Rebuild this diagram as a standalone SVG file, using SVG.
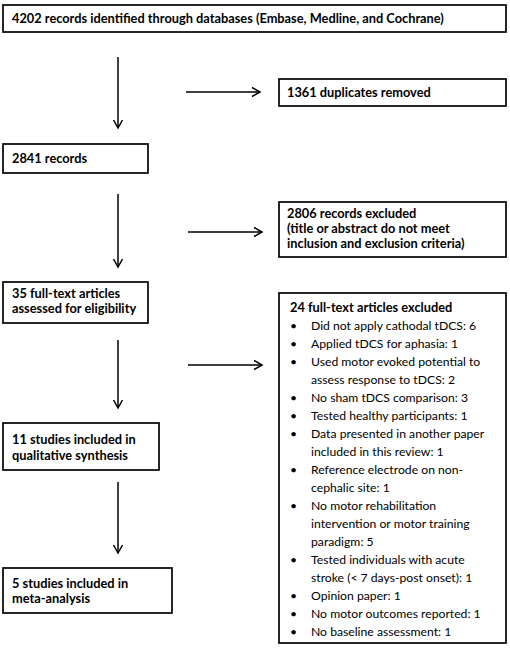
<svg xmlns="http://www.w3.org/2000/svg" width="510" height="648" viewBox="0 0 510 648">
<style>
.box{fill:#fff;stroke:#000;stroke-width:1.7}
.b{font-family:Lato,"Liberation Sans",sans-serif;font-weight:bold;font-size:12.8px;fill:#000}
.r{font-family:Lato,"Liberation Sans",sans-serif;font-size:12.2px;fill:#000}
.ln{stroke:#000;stroke-width:1.5;fill:none}
.hd{stroke:#000;stroke-width:1.5;fill:none;stroke-linejoin:miter}
</style>
<rect width="510" height="648" fill="#fff"/>
<g id="identified"><rect class="box" x="3" y="5" width="503" height="27"/><text class="b" x="12" y="23">4202 records identified through databases (Embase, Medline, and Cochrane)</text></g>
<g id="duplicates"><rect class="box" x="279" y="79" width="227" height="27"/><text class="b" x="287" y="97">1361 duplicates removed</text></g>
<g id="records"><rect class="box" x="3" y="144" width="145" height="29"/><text class="b" x="12" y="163">2841 records</text></g>
<g id="excluded1"><rect class="box" x="279" y="202" width="227" height="55"/><text class="b" x="287" y="217.5">2806 records excluded</text><text class="b" x="287" y="232.5">(title or abstract do not meet</text><text class="b" x="287" y="247.5">inclusion and exclusion criteria)</text></g>
<g id="fulltext"><rect class="box" x="3" y="282" width="145" height="41"/><text class="b" x="12" y="297.5">35 full-text articles</text><text class="b" x="12" y="313">assessed for eligibility</text></g>
<g id="qualitative"><rect class="box" x="3" y="423" width="156" height="47"/><text class="b" x="12" y="444">11 studies included in</text><text class="b" x="12" y="460">qualitative synthesis</text></g>
<g id="meta"><rect class="box" x="3" y="568" width="169" height="45"/><text class="b" x="12" y="587.5">5 studies included in</text><text class="b" x="12" y="603">meta-analysis</text></g>
<g id="excluded2"><rect class="box" x="279" y="293" width="227" height="350"/>
<text class="b" x="290" y="311.5">24 full-text articles excluded</text>
<g class="r">
<text x="290" y="329.5">•</text><text x="311" y="329.5">Did not apply cathodal tDCS: 6</text>
<text x="290" y="347.5">•</text><text x="311" y="347.5">Applied tDCS for aphasia: 1</text>
<text x="290" y="365.5">•</text><text x="311" y="365.5">Used motor evoked potential to</text>
<text x="311" y="383.5">assess response to tDCS: 2</text>
<text x="290" y="401.5">•</text><text x="311" y="401.5">No sham tDCS comparison: 3</text>
<text x="290" y="419.5">•</text><text x="311" y="419.5">Tested healthy participants: 1</text>
<text x="290" y="437.5">•</text><text x="311" y="437.5">Data presented in another paper</text>
<text x="311" y="455.5">included in this review: 1</text>
<text x="290" y="473.5">•</text><text x="311" y="473.5">Reference electrode on non-</text>
<text x="311" y="491.5">cephalic site: 1</text>
<text x="290" y="509.5">•</text><text x="311" y="509.5">No motor rehabilitation</text>
<text x="311" y="527.5">intervention or motor training</text>
<text x="311" y="545.5">paradigm: 5</text>
<text x="290" y="563.5">•</text><text x="311" y="563.5">Tested individuals with acute</text>
<text x="311" y="581.5">stroke (&lt; 7 days-post onset): 1</text>
<text x="290" y="599.5">•</text><text x="311" y="599.5">Opinion paper: 1</text>
<text x="290" y="617.5">•</text><text x="311" y="617.5">No motor outcomes reported: 1</text>
<text x="290" y="635.5">•</text><text x="311" y="635.5">No baseline assessment: 1</text>
</g></g>
<g id="connectors">
<line class="ln" x1="118" y1="57" x2="118" y2="128"/><polyline class="hd" points="113.5,120 118,128 122.5,120"/>
<line class="ln" x1="186" y1="92" x2="260" y2="92"/><polyline class="hd" points="252,87.5 260,92 252,96.5"/>
<line class="ln" x1="118" y1="194" x2="118" y2="267"/><polyline class="hd" points="113.5,259 118,267 122.5,259"/>
<line class="ln" x1="188" y1="232" x2="262" y2="232"/><polyline class="hd" points="254,227.5 262,232 254,236.5"/>
<line class="ln" x1="118" y1="340" x2="118" y2="408"/><polyline class="hd" points="113.5,400 118,408 122.5,400"/>
<line class="ln" x1="188" y1="365" x2="262" y2="365"/><polyline class="hd" points="254,360.5 262,365 254,369.5"/>
<line class="ln" x1="118" y1="482" x2="118" y2="553"/><polyline class="hd" points="113.5,545 118,553 122.5,545"/>
</g>
</svg>
